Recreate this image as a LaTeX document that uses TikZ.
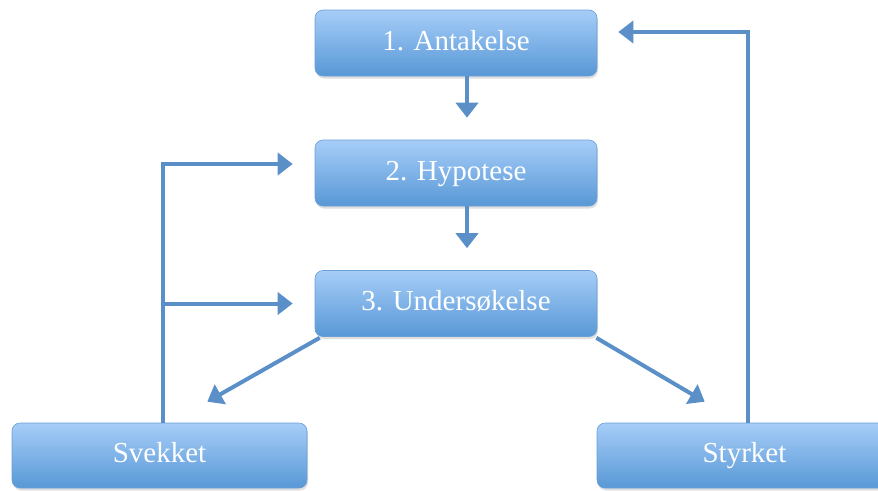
\documentclass[tikz,border=0pt]{standalone}
\usepackage{fontspec}
\setmainfont{Liberation Serif}
\usetikzlibrary{arrows.meta,shadows,calc}
\definecolor{boxtop}{HTML}{A6CDF8}
\definecolor{boxbot}{HTML}{5898D6}
\definecolor{boxline}{HTML}{6A9FD6}
\definecolor{arrcol}{HTML}{5B8FC8}
\tikzset{
  procbox/.style={draw=boxline, line width=0.6pt, rounded corners=8pt,
    top color=boxtop, bottom color=boxbot, text=white,
    minimum width=282pt, minimum height=66pt, inner sep=0pt,
    text height=19pt, text depth=5pt,
    font=\fontsize{29}{32}\selectfont,
    drop shadow={opacity=0.25, shadow xshift=1pt, shadow yshift=-2.5pt}},
  endbox/.style={procbox, minimum width=295pt, minimum height=65pt},
  conn/.style={draw=arrcol, line width=4pt},
  arr/.style={conn, -{Triangle[width=22pt,length=15pt]}},
}
\begin{document}
\begin{tikzpicture}[x=1pt,y=-1pt]
\useasboundingbox (0,0) rectangle (878,490);
\node[procbox] (a) at (456,43) {1. Antakelse};
\node[procbox] (b) at (456,173) {2. Hypotese};
\node[procbox] (c) at (456,303.5) {3. Undersøkelse};
\node[endbox] (s) at (159.5,455.5) {Svekket};
\node[endbox] (t) at (744.5,455.5) {Styrket};
\coordinate (lk) at (163,164);
\coordinate (rk) at (748,32);
% down arrows
\draw[arr] ([xshift=11pt]a.south) -- ([xshift=11pt,yshift=22pt]b.north);
\draw[arr] ([xshift=11pt]b.south) -- ([xshift=11pt,yshift=22pt]c.north);
% diagonals
\draw[arr] ([xshift=5pt,yshift=-1pt]c.south west) -- ($(s.north east)+(-100,-21)$);
\draw[arr] ([xshift=-1pt,yshift=-1pt]c.south east) -- ($(t.north west)+(108,-21)$);
% left feedback
\draw[conn] (s.north -| lk) -- (lk);
\draw[arr] ([xshift=-2pt]lk) -- ([xshift=-22pt]lk -| b.west);
\draw[arr] (lk |- c.west) -- ([xshift=-22pt]c.west);
% right feedback
\draw[conn] (t.north -| rk) -- ([yshift=2pt]rk);
\draw[arr] ([xshift=2pt]rk) -- ([xshift=21pt]rk -| a.east);
\end{tikzpicture}
\end{document}
